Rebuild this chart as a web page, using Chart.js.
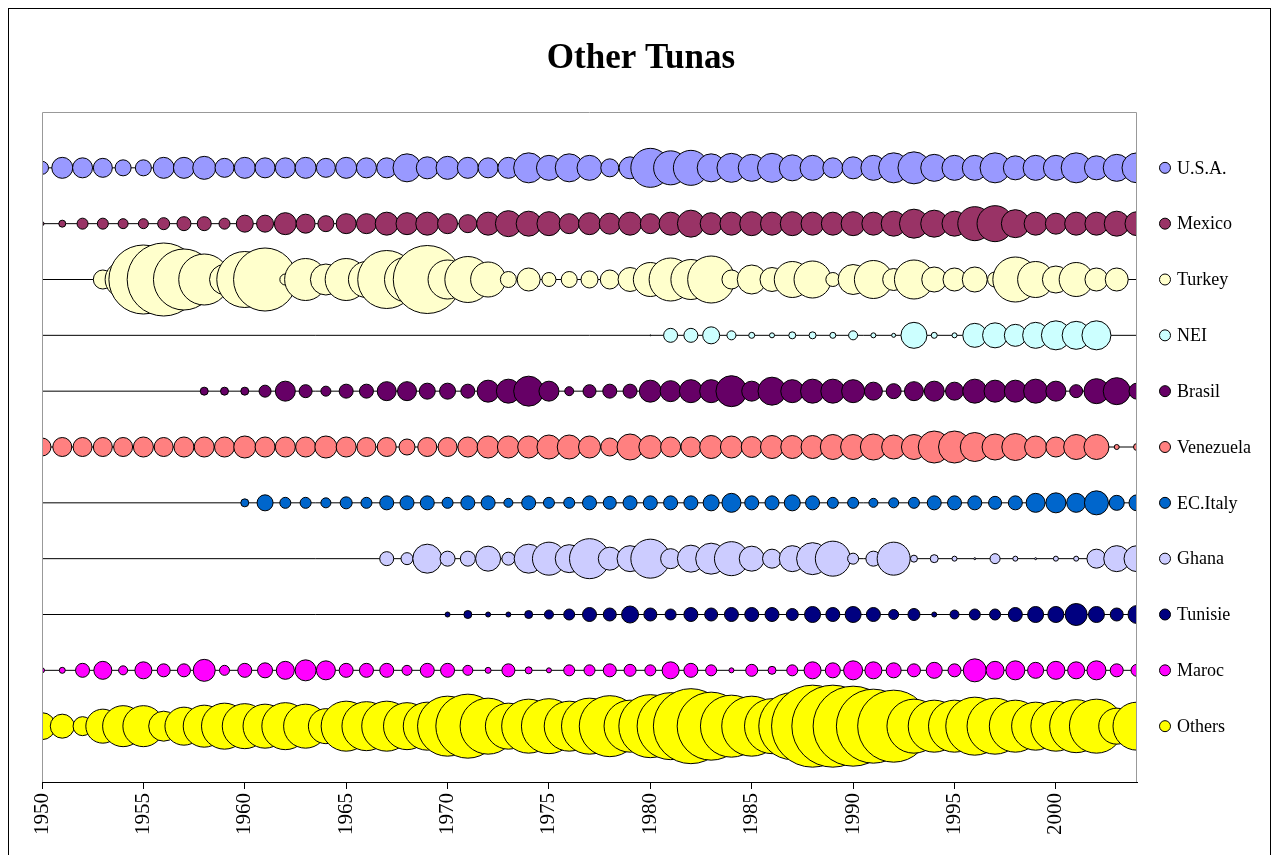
<!DOCTYPE html>
<html lang="en">

<head>
    <meta charset="UTF-8">
    <title>Other Tunas</title>
    <script src="https://cdn.jsdelivr.net/npm/chart.js"></script>
    <style>
        html, body { margin: 0; padding: 0; background: #fff; overflow: hidden; }
        #frame { position: absolute; left: 8px; top: 8px; width: 1263px; height: 900px; border: 1px solid #000; box-sizing: border-box; }
        #wrap { position: absolute; left: 0; top: 0; width: 1274px; height: 855px; }
    </style>
</head>

<body>
    <div id="frame"></div>
    <div id="wrap"><canvas id="chart" width="1274" height="855"></canvas></div>

    <script>
        const chartTitle = 'Other Tunas';

        // Years on the x axis
        const years = [
            1950, 1951, 1952, 1953, 1954, 1955, 1956, 1957, 1958, 1959,
            1960, 1961, 1962, 1963, 1964, 1965, 1966, 1967, 1968, 1969,
            1970, 1971, 1972, 1973, 1974, 1975, 1976, 1977, 1978, 1979,
            1980, 1981, 1982, 1983, 1984, 1985, 1986, 1987, 1988, 1989,
            1990, 1991, 1992, 1993, 1994, 1995, 1996, 1997, 1998, 1999,
            2000, 2001, 2002, 2003, 2004
        ];
        const tickYears = [1950, 1955, 1960, 1965, 1970, 1975, 1980, 1985, 1990, 1995, 2000];

        // Bubble size values (bubble width), one per year, 0 = no catch
        const usa = [13, 21, 20, 19, 16, 16, 21, 21, 23, 19, 21, 20, 20, 21, 19, 21, 20, 20, 28, 22, 23, 21, 20, 21, 30, 25, 28, 25, 18, 22, 39, 34, 35, 28, 29, 27, 29, 26, 25, 20, 22, 25, 30, 32, 27, 25, 25, 30, 24, 25, 25, 30, 24, 27, 30];
        const mexico = [4, 7, 11, 11, 10, 10, 12, 14, 14, 11, 17, 17, 22, 19, 16, 20, 20, 23, 22, 23, 20, 18, 23, 26, 25, 24, 20, 22, 21, 23, 20, 23, 27, 22, 23, 24, 23, 24, 23, 23, 24, 23, 25, 29, 27, 25, 34, 36, 28, 23, 21, 23, 23, 25, 24];
        const turkey = [0, 0, 0, 19, 36, 69, 73, 61, 51, 30, 56, 63, 11, 42, 31, 42, 36, 58, 45, 68, 39, 46, 35, 16, 23, 14, 16, 17, 19, 24, 34, 43, 40, 47, 19, 29, 24, 36, 37, 14, 30, 38, 22, 39, 25, 23, 25, 15, 45, 36, 27, 34, 23, 23, 0];
        const nei = [0, 0, 0, 0, 0, 0, 0, 0, 0, 0, 0, 0, 0, 0, 0, 0, 0, 0, 0, 0, 0, 0, 0, 0, 0, 0, 0, 0, 0, 0, 1, 14, 14, 17, 9, 6, 5, 7, 7, 6, 9, 5, 4, 26, 6, 5, 24, 25, 22, 26, 29, 28, 29, 0, 1];
        const brasil = [0, 0, 0, 0, 0, 0, 0, 0, 8, 8, 8, 12, 20, 13, 10, 14, 14, 19, 19, 16, 16, 14, 22, 24, 30, 20, 9, 13, 14, 14, 22, 21, 23, 23, 31, 20, 28, 23, 24, 24, 23, 18, 15, 19, 20, 18, 24, 22, 22, 24, 20, 13, 25, 27, 16];
        const venezuela = [18, 19, 19, 19, 19, 20, 19, 20, 20, 20, 22, 20, 20, 20, 22, 20, 19, 19, 16, 19, 19, 20, 22, 22, 22, 24, 24, 22, 18, 26, 23, 20, 20, 23, 22, 21, 23, 23, 23, 25, 25, 26, 24, 25, 32, 32, 29, 26, 27, 22, 20, 25, 25, 5, 7];
        const ecItaly = [0, 0, 0, 0, 0, 0, 0, 0, 0, 0, 8, 16, 11, 11, 10, 12, 11, 14, 14, 14, 11, 14, 14, 9, 14, 11, 11, 14, 13, 14, 14, 14, 14, 16, 19, 14, 14, 16, 14, 11, 11, 9, 10, 11, 14, 14, 14, 13, 14, 19, 20, 19, 24, 15, 16];
        const ghana = [0, 0, 0, 0, 0, 0, 0, 0, 0, 0, 0, 0, 0, 0, 0, 0, 0, 14, 12, 29, 15, 15, 25, 13, 29, 33, 28, 40, 23, 26, 39, 20, 27, 31, 34, 25, 19, 26, 32, 35, 11, 15, 33, 7, 8, 5, 2, 10, 5, 2, 5, 5, 19, 26, 26];
        const tunisie = [0, 0, 0, 0, 0, 0, 0, 0, 0, 0, 0, 0, 0, 0, 0, 0, 0, 0, 0, 0, 5, 8, 5, 5, 8, 9, 11, 14, 13, 17, 13, 11, 14, 13, 14, 14, 14, 12, 16, 14, 16, 14, 10, 12, 5, 9, 11, 11, 14, 16, 16, 22, 16, 13, 18];
        const maroc = [5, 6, 14, 18, 9, 17, 13, 13, 22, 10, 14, 15, 18, 21, 19, 14, 14, 14, 10, 14, 14, 10, 6, 13, 7, 5, 11, 11, 13, 12, 11, 17, 14, 11, 5, 12, 8, 11, 17, 15, 19, 17, 15, 13, 16, 13, 23, 18, 19, 16, 18, 17, 19, 13, 12];
        const others = [27, 24, 19, 34, 41, 41, 30, 38, 42, 46, 45, 44, 47, 44, 35, 50, 49, 50, 47, 48, 60, 64, 56, 46, 54, 55, 50, 56, 61, 52, 63, 67, 75, 68, 62, 60, 55, 67, 82, 82, 80, 74, 72, 54, 52, 52, 58, 56, 52, 48, 50, 53, 54, 36, 48];

        // Series, top row first
        const seriesNames = ["U.S.A.", "Mexico", "Turkey", "NEI", "Brasil", "Venezuela", "EC.Italy", "Ghana", "Tunisie", "Maroc", "Others"];
        const seriesValues = [usa, mexico, turkey, nei, brasil, venezuela, ecItaly, ghana, tunisie, maroc, others];
        const seriesRows = [11, 10, 9, 8, 7, 6, 5, 4, 3, 2, 1];
        const seriesColors = ["#9999FF", "#993366", "#FFFFCC", "#CCFFFF", "#660066", "#FF8080", "#0066CC", "#CCCCFF", "#000080", "#FF00FF", "#FFFF00"];

        const SERIF = '"Liberation Serif", "Times New Roman", serif';
        const SIZE_TO_RADIUS = 0.5; // bubble size = width of bubble

        // One bubble dataset and one thin base line per row
        const datasets = [];
        seriesNames.forEach((name, i) => {
            const points = [];
            years.forEach((yr, k) => {
                const v = seriesValues[i][k];
                if (v > 0) points.push({ x: yr, y: seriesRows[i], r: v * SIZE_TO_RADIUS });
            });
            datasets.push({
                type: 'bubble',
                label: name,
                data: points,
                backgroundColor: seriesColors[i],
                borderColor: '#000',
                borderWidth: 1,
                hoverRadius: 0,
                clip: 0,
                order: 0
            });
            datasets.push({
                type: 'line',
                label: name + ' line',
                data: [{ x: years[0], y: seriesRows[i] }, { x: years[years.length - 1], y: seriesRows[i] }],
                borderColor: '#000',
                borderWidth: 1,
                pointRadius: 0,
                fill: false,
                clip: 0,
                order: 1
            });
        });

        // Title, centred on the whole frame
        const frameTitle = {
            id: 'frameTitle',
            afterDraw(chart) {
                const ctx = chart.ctx;
                ctx.save();
                ctx.font = 'bold 35px ' + SERIF;
                ctx.fillStyle = '#000';
                ctx.textAlign = 'center';
                ctx.textBaseline = 'middle';
                ctx.fillText(chartTitle, chart.width / 2 + 4, 59);
                ctx.restore();
            }
        };

        // Gray frame round the plot area (the bottom is the black x axis)
        const plotFrame = {
            id: 'plotFrame',
            afterDatasetsDraw(chart) {
                const { ctx, chartArea: a } = chart;
                ctx.save();
                ctx.strokeStyle = '#999';
                ctx.lineWidth = 1;
                ctx.beginPath();
                ctx.moveTo(a.left + 0.5, a.bottom);
                ctx.lineTo(a.left + 0.5, a.top + 0.5);
                ctx.lineTo(a.right - 0.5, a.top + 0.5);
                ctx.lineTo(a.right - 0.5, a.bottom);
                ctx.stroke();
                ctx.restore();
            }
        };

        // Legend on the right, each entry level with its row
        const rowLegend = {
            id: 'rowLegend',
            afterDraw(chart) {
                const { ctx, chartArea: a } = chart;
                const yScale = chart.scales.y;
                ctx.save();
                ctx.font = '18px ' + SERIF;
                ctx.textBaseline = 'middle';
                seriesNames.forEach((name, i) => {
                    const py = yScale.getPixelForValue(seriesRows[i]);
                    ctx.beginPath();
                    ctx.arc(a.right + 28, py, 5.5, 0, Math.PI * 2);
                    ctx.fillStyle = seriesColors[i];
                    ctx.fill();
                    ctx.strokeStyle = '#000';
                    ctx.lineWidth = 1;
                    ctx.stroke();
                    ctx.fillStyle = '#000';
                    ctx.fillText(name, a.right + 40, py + 1);
                });
                ctx.restore();
            }
        };

        new Chart(document.getElementById('chart'), {
            type: 'bubble',
            data: { datasets },
            options: {
                responsive: false,
                animation: false,
                events: [],
                layout: { padding: { left: 38, right: 137, top: 112, bottom: 0 } },
                plugins: {
                    legend: { display: false },
                    tooltip: { enabled: false },
                    title: { display: false }
                },
                scales: {
                    x: {
                        type: 'linear',
                        min: years[0],
                        max: years[years.length - 1],
                        afterBuildTicks: s => { s.ticks = tickYears.map(v => ({ value: v })); },
                        afterFit: s => { s.height = 73; },
                        ticks: {
                            autoSkip: false,
                            maxRotation: 90,
                            minRotation: 90,
                            padding: 4,
                            color: '#000',
                            font: { family: SERIF, size: 21 },
                            callback: v => String(v)
                        },
                        grid: { drawOnChartArea: false, drawTicks: true, tickLength: 7, color: '#000' },
                        border: { color: '#000', width: 1 }
                    },
                    y: { type: 'linear', min: 0, max: 12, display: false }
                }
            },
            plugins: [plotFrame, rowLegend, frameTitle]
        });
    </script>
</body>

</html>
